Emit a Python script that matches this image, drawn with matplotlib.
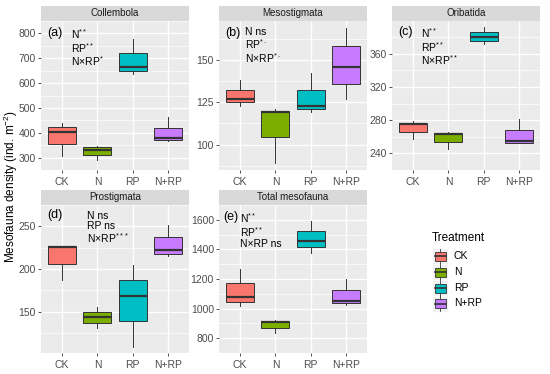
import numpy as np
import matplotlib
matplotlib.use("Agg")
import matplotlib.pyplot as plt
from matplotlib.patches import Rectangle

plt.rcParams['font.family'] = ['Liberation Sans', 'DejaVu Sans']
plt.rcParams['mathtext.default'] = 'regular'

W, H = 550, 374

treatments = ['CK', 'N', 'RP', 'N+RP']
colors = ['#F8766D', '#7CAE00', '#00BFC4', '#C77CFF']

# box stats per panel: lower whisker, q1, median, q3, upper whisker
collembola_lo = [305, 290, 638, 365]
collembola_q1 = [355, 312, 650, 372]
collembola_med = [405, 330, 663, 378]
collembola_q3 = [422, 342, 720, 420]
collembola_hi = [440, 348, 778, 462]

meso_lo = [123, 89, 119, 127]
meso_q1 = [125, 104.5, 121, 136]
meso_med = [127, 119, 123, 146]
meso_q3 = [132.5, 120, 132.5, 158]
meso_hi = [138, 121, 142, 169]

orib_lo = [257, 245, 372, 253]
orib_q1 = [266, 254, 375, 253]
orib_med = [275, 263, 380, 255]
orib_q3 = [277, 265, 386, 268]
orib_hi = [279, 266, 392, 281]

prost_lo = [187, 131, 109, 215]
prost_q1 = [206, 137, 139, 218]
prost_med = [226, 144, 169, 222]
prost_q3 = [227, 150, 187, 237]
prost_hi = [227, 156, 205, 252]

total_lo = [1015, 835, 1375, 1025]
total_q1 = [1045, 870, 1415, 1035]
total_med = [1080, 908, 1455, 1050]
total_q3 = [1170, 918, 1525, 1125]
total_hi = [1265, 922, 1595, 1200]

titles = ['Collembola', 'Mesostigmata', 'Oribatida', 'Prostigmata', 'Total mesofauna']
tags = ['(a)', '(b)', '(c)', '(d)', '(e)']
notes = [
    ['N$^{**}$', 'RP$^{**}$', 'N×RP$^{*}$'],
    ['N ns', 'RP$^{*\\cdot}$', 'N×RP$^{*\\cdot}$'],
    ['N$^{**}$', 'RP$^{**}$', 'N×RP$^{**}$'],
    ['N ns', 'RP ns', 'N×RP$^{***}$'],
    ['N$^{**}$', 'RP$^{**}$', 'N×RP ns'],
]
yticks = [
    [300, 400, 500, 600, 700, 800],
    [100, 125, 150],
    [240, 280, 320, 360],
    [150, 200, 250],
    [800, 1000, 1200, 1400, 1600],
]
stats_all = [
    (collembola_lo, collembola_q1, collembola_med, collembola_q3, collembola_hi),
    (meso_lo, meso_q1, meso_med, meso_q3, meso_hi),
    (orib_lo, orib_q1, orib_med, orib_q3, orib_hi),
    (prost_lo, prost_q1, prost_med, prost_q3, prost_hi),
    (total_lo, total_q1, total_med, total_q3, total_hi),
]

# panel geometry in pixels (left, top, width, height)
panel_px = [(41, 21, 148, 149), (219, 21, 148, 149), (392, 21, 148, 149),
            (41, 205, 148, 148), (219, 205, 148, 148)]
strip_h = 15
# annotation positions in pixels: tag x, tag y, text x, text top y
note_px = [(47, 33, 71, 27), (225, 33, 245, 27), (398, 32, 421, 26),
           (47, 215, 87, 211), (223, 217, 240, 211)]


def frac(l, t, w, h):
    return [l / W, 1 - (t + h) / H, w / W, h / H]


fig = plt.figure(figsize=(W / 100, H / 100), dpi=100)

for i in range(5):
    l, t, w, h = panel_px[i]
    ax = fig.add_axes(frac(l, t, w, h))
    ax.set_facecolor('#EBEBEB')
    lo, q1, med, q3, hi = stats_all[i]
    stats = [dict(whislo=lo[k], q1=q1[k], med=med[k], q3=q3[k], whishi=hi[k], fliers=[])
             for k in range(4)]
    bp = ax.bxp(stats, positions=np.arange(1, 5), widths=0.8, patch_artist=True,
                showcaps=False, showfliers=False,
                boxprops=dict(edgecolor='#333333', linewidth=0.7),
                whiskerprops=dict(color='#333333', linewidth=0.7),
                medianprops=dict(color='#333333', linewidth=1.6))
    for patch, c in zip(bp['boxes'], colors):
        patch.set_facecolor(c)
    for art in bp['boxes'] + bp['whiskers'] + bp['medians']:
        art.set_zorder(3)

    ymin = min(lo)
    ymax = max(hi)
    pad = 0.05 * (ymax - ymin)
    ax.set_ylim(ymin - pad, ymax + pad)
    ax.set_xlim(0.4, 4.6)
    ax.set_yticks(yticks[i])
    ax.set_yticklabels([str(v) for v in yticks[i]])
    step = yticks[i][1] - yticks[i][0]
    minors = np.arange(yticks[i][0] - step / 2, yticks[i][-1] + step, step)
    ax.set_yticks(minors, minor=True)
    ax.set_xticks(np.arange(1, 5))
    ax.set_xticklabels(treatments)
    ax.grid(True, which='major', color='white', linewidth=1.0, zorder=0)
    ax.grid(True, which='minor', axis='y', color='white', linewidth=0.5, zorder=0)
    ax.set_axisbelow(True)
    ax.tick_params(axis='both', which='major', labelsize=7.5, colors='#333333',
                   labelcolor='#4D4D4D', length=2.2, width=0.6, pad=1.5)
    ax.tick_params(axis='x', which='major', pad=2.5)
    ax.tick_params(axis='y', which='minor', length=0)
    for s in ax.spines.values():
        s.set_visible(False)

    # facet strip
    sax = fig.add_axes(frac(l, t - strip_h, w, strip_h))
    sax.set_facecolor('#D9D9D9')
    sax.set_xticks([])
    sax.set_yticks([])
    for s in sax.spines.values():
        s.set_visible(False)
    sax.text(0.5, 0.5, titles[i], ha='center', va='center', fontsize=7,
             color='#1A1A1A', transform=sax.transAxes)

    # annotations
    tx, ty, nx, ny = note_px[i]
    fig.text(tx / W, 1 - ty / H, tags[i], ha='left', va='center',
             fontsize=9, color='black')
    fig.text(nx / W, 1 - ny / H, '\n'.join(notes[i]), ha='left', va='top',
             fontsize=7.5, color='black', linespacing=1.0)

# shared y label
fig.text(11 / W, 1 - 187 / H, 'Mesofauna density (ind. m$^{-2}$)', rotation=90,
         ha='center', va='center', fontsize=8.5, color='black')

# legend drawn by hand
fig.text(432 / W, 1 - 238 / H, 'Treatment', ha='left', va='center', fontsize=8.5)
lax = fig.add_axes([0, 0, 1, 1], facecolor='none')
lax.set_xlim(0, W)
lax.set_ylim(H, 0)
lax.axis('off')
key_y = [256, 272, 288, 303.5]
for k, lab in enumerate(treatments):
    cy = key_y[k]
    lax.add_patch(Rectangle((432, cy - 8), 16, 16, facecolor='#F2F2F2',
                            edgecolor='white', linewidth=0.6))
    lax.plot([440, 440], [cy - 7.5, cy + 7.5], color='#333333', linewidth=0.6)
    lax.add_patch(Rectangle((434.5, cy - 4.5), 11, 9, facecolor=colors[k],
                            edgecolor='#333333', linewidth=0.6, zorder=3))
    lax.plot([434.5, 445.5], [cy, cy], color='#333333', linewidth=1.2, zorder=4)
    lax.text(454, cy, lab, ha='left', va='center', fontsize=7.5, color='black')

fig.savefig('out.png', dpi=100)
